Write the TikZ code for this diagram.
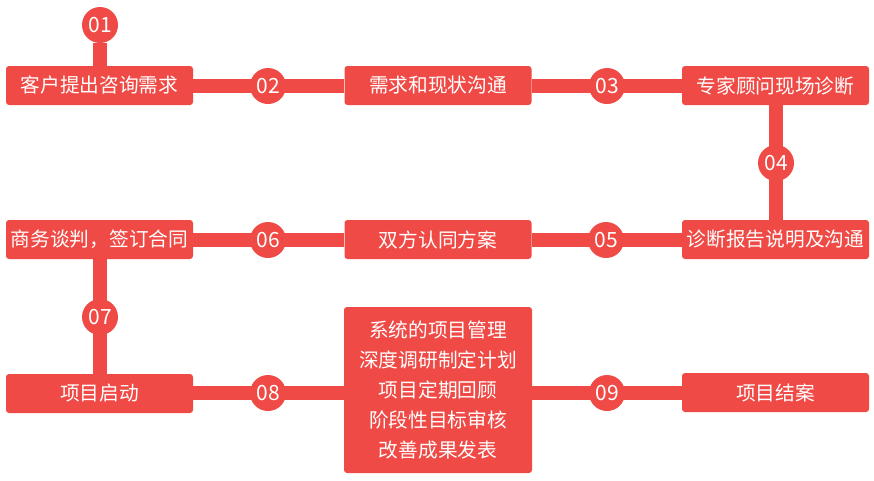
\documentclass[tikz,border=0pt]{standalone}
\usepackage{fontspec}
\setmainfont{Noto Sans CJK SC}
\usetikzlibrary{backgrounds}
\definecolor{flowred}{RGB}{239,74,69}
\tikzset{
  box/.style={fill=flowred, rounded corners=3pt, minimum width=187pt, minimum height=39pt,
    inner sep=0pt, text=white, font=\fontsize{19.7}{23}\selectfont},
  bigbox/.style={box, minimum width=188pt, minimum height=166pt, align=center,
    font=\fontsize{19.7}{30}\selectfont},
  num/.style={circle, fill=flowred, minimum size=36pt, inner sep=0pt, text=white,
    font=\fontsize{21}{21}\selectfont},
  bar/.style={draw=flowred, line width=14pt}
}
\begin{document}
\begin{tikzpicture}[x=1pt,y=-1pt]
\useasboundingbox (0,0) rectangle (874,480);
% boxes
\node[box] (b1) at (99.5,85.5) {客户提出咨询需求};
\node[box] (b2) at (438,85.5) {需求和现状沟通};
\node[box] (b3) at (775.5,85.5) {专家顾问现场诊断};
\node[box] (b4) at (775.5,239.5) {诊断报告说明及沟通};
\node[box] (b5) at (438,239.5) {双方认同方案};
\node[box] (b6) at (99.5,239.5) {商务谈判，签订合同};
\node[box] (b7) at (99.5,393.5) {项目启动};
\node[bigbox] (b8) at (438,390) {系统的项目管理\\深度调研制定计划\\项目定期回顾\\阶段性目标审核\\改善成果发表};
\node[box] (b9) at (775.5,392.5) {项目结案};
% numbered circles
\node[num] (c1) at (100,25) {01};
\node[num] (c2) at (268,86) {02};
\node[num] (c3) at (607,86) {03};
\node[num] (c4) at (776,163) {04};
\node[num] (c5) at (606,240) {05};
\node[num] (c6) at (268,240) {06};
\node[num] (c7) at (100,317) {07};
\node[num] (c8) at (268,393) {08};
\node[num] (c9) at (607,393) {09};
% connectors
\begin{scope}[on background layer]
\draw[bar] (c1) -- (b1.north -| c1);
\draw[bar] (b1.east |- c2) -- (b2.west |- c2);
\draw[bar] (b2.east |- c3) -- (b3.west |- c3);
\draw[bar] (b3.south -| c4) -- (b4.north -| c4);
\draw[bar] (b4.west |- c5) -- (b5.east |- c5);
\draw[bar] (b5.west |- c6) -- (b6.east |- c6);
\draw[bar] (b6.south -| c7) -- (b7.north -| c7);
\draw[bar] (b7.east |- c8) -- (b8.west |- c8);
\draw[bar] (b8.east |- c9) -- (b9.west |- c9);
\end{scope}
\end{tikzpicture}
\end{document}
